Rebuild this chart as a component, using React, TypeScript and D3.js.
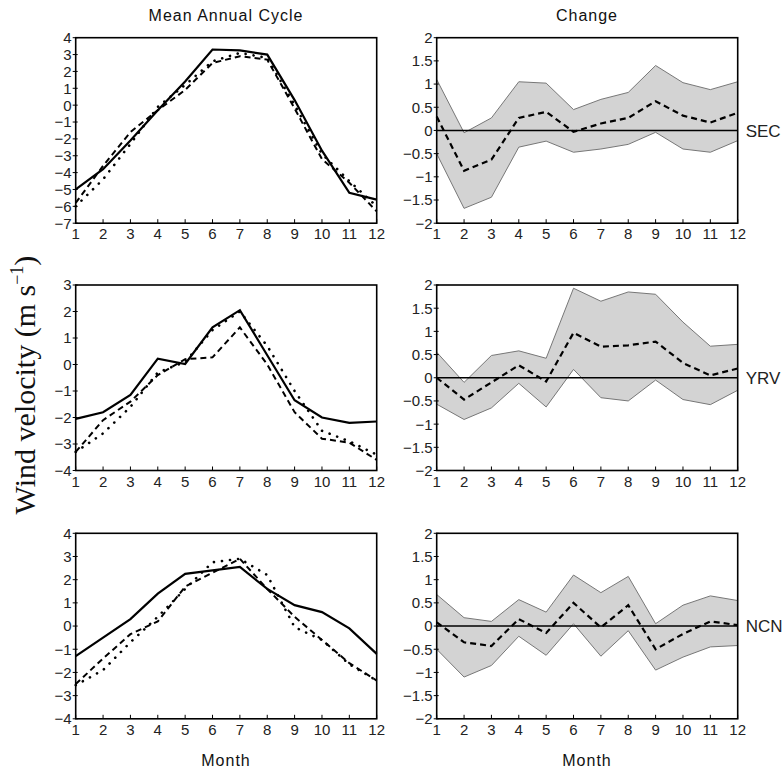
import { line, area, scaleLinear, range } from "d3"

const months = range(1, 13)

// Mean annual cycle (left column): solid, dashed, dotted
const secSolid = [-5.0, -3.8, -2.1, -0.3, 1.4, 3.3, 3.25, 3.0, 0.3, -2.7, -5.2, -5.6]
const secDashed = [-5.8, -3.6, -1.6, -0.3, 0.9, 2.5, 2.9, 2.7, -0.2, -3.2, -4.6, -6.3]
const secDotted = [-6.0, -4.4, -2.3, -0.1, 1.2, 2.6, 3.1, 2.8, 0.0, -2.9, -4.5, -6.0]

const yrvSolid = [-2.05, -1.8, -1.15, 0.22, 0.02, 1.4, 2.05, 0.35, -1.35, -2.0, -2.2, -2.15]
const yrvDashed = [-3.3, -2.1, -1.4, -0.4, 0.2, 0.27, 1.4, 0.0, -1.8, -2.8, -2.95, -3.6]
const yrvDotted = [-3.3, -2.6, -1.6, -0.3, 0.1, 1.3, 2.0, 0.7, -1.0, -2.5, -2.9, -3.4]

const ncnSolid = [-1.3, -0.5, 0.3, 1.4, 2.25, 2.4, 2.55, 1.6, 0.9, 0.6, -0.1, -1.2]
const ncnDashed = [-2.5, -1.4, -0.35, 0.2, 1.7, 2.3, 2.9, 1.6, 0.4, -0.6, -1.6, -2.35]
const ncnDotted = [-2.55, -1.9, -0.7, 0.4, 1.6, 2.75, 2.9, 2.2, -0.05, -0.6, -1.65, -2.35]

// Change (right column): mean, upper and lower bounds
const secMean = [0.3, -0.87, -0.63, 0.27, 0.4, -0.03, 0.15, 0.27, 0.63, 0.32, 0.17, 0.38]
const secUpper = [1.1, -0.05, 0.27, 1.05, 1.02, 0.45, 0.67, 0.82, 1.4, 1.03, 0.88, 1.05]
const secLower = [-0.5, -1.68, -1.44, -0.36, -0.23, -0.47, -0.4, -0.3, -0.04, -0.4, -0.47, -0.22]

const yrvMean = [0.0, -0.47, -0.1, 0.27, -0.08, 0.97, 0.67, 0.7, 0.78, 0.32, 0.05, 0.2]
const yrvUpper = [0.55, -0.1, 0.48, 0.58, 0.42, 1.93, 1.65, 1.85, 1.8, 1.2, 0.68, 0.72]
const yrvLower = [-0.57, -0.9, -0.65, -0.12, -0.63, 0.18, -0.43, -0.5, -0.05, -0.47, -0.58, -0.27]

const ncnMean = [0.08, -0.35, -0.43, 0.15, -0.15, 0.5, -0.03, 0.45, -0.5, -0.17, 0.1, 0.02]
const ncnUpper = [0.68, 0.18, 0.1, 0.57, 0.3, 1.1, 0.72, 1.07, 0.05, 0.45, 0.65, 0.55]
const ncnLower = [-0.5, -1.1, -0.85, -0.22, -0.63, 0.05, -0.65, -0.1, -0.95, -0.67, -0.45, -0.42]

const regions = ["SEC", "YRV", "NCN"]
const cycleDomains = [[-7, 4], [-4, 3], [-4, 4]]
const changeTicks = [-2, -1.5, -1, -0.5, 0, 0.5, 1, 1.5, 2]

const cycles = [
  [secSolid, secDashed, secDotted],
  [yrvSolid, yrvDashed, yrvDotted],
  [ncnSolid, ncnDashed, ncnDotted],
]
const changes = [
  [secMean, secUpper, secLower],
  [yrvMean, yrvUpper, yrvLower],
  [ncnMean, ncnUpper, ncnLower],
]

const rowTops = [37.7, 285, 533.3]
const rowH = 185.5
const leftX = [75.7, 376.7]
const rightX = [436.7, 737.7]
const tickFont = "'Liberation Sans', Arial, sans-serif"

const fmt = (v) => (v < 0 ? "\u2212" + Math.abs(v) : String(v))

const Panel = ({ x0, x1, top, domain, ticks, children }) => {
  const x = scaleLinear().domain([1, 12]).range([x0, x1])
  const y = scaleLinear().domain(domain).range([top + rowH, top])
  return (
    <g>
      {children(x, y)}
      <rect x={x0} y={top} width={x1 - x0} height={rowH} fill="none" stroke="#000" strokeWidth={1.6} />
      {ticks.map((t) => (
        <g key={"y" + t}>
          <line x1={x0 - 3} x2={x0 + 2} y1={y(t)} y2={y(t)} stroke="#000" strokeWidth={1} />
          <text x={x0 - 4} y={y(t)} dy="0.36em" textAnchor="end" fontSize={15} fontFamily={tickFont} fill="#222">
            {fmt(t)}
          </text>
        </g>
      ))}
      {months.map((m) => (
        <g key={"x" + m}>
          <line x1={x(m)} x2={x(m)} y1={top + rowH} y2={top + rowH - 4} stroke="#000" strokeWidth={1} />
          <text x={x(m)} y={top + rowH + 16} textAnchor="middle" fontSize={15} fontFamily={tickFont} fill="#222">
            {m}
          </text>
        </g>
      ))}
    </g>
  )
}

const App = () => {
  const title = { fontSize: 16, fontFamily: tickFont, fill: "#111", letterSpacing: 1 }
  return (
    <svg width={782} height={772} style={{ display: "block", position: "absolute", left: 0, top: 0 }}>
      <rect width={782} height={772} fill="#fff" />
      <text x={226} y={21} textAnchor="middle" {...title}>
        Mean Annual Cycle
      </text>
      <text x={587} y={21} textAnchor="middle" {...title}>
        Change
      </text>
      <text x={226} y={766} textAnchor="middle" {...title}>
        Month
      </text>
      <text x={587} y={766} textAnchor="middle" {...title}>
        Month
      </text>
      <text
        transform="translate(35,385) rotate(-90)"
        textAnchor="middle"
        fontSize={30}
        fontFamily="'Liberation Serif', 'Times New Roman', serif"
        fill="#111"
      >
        Wind velocity (m s<tspan dy="-12" fontSize={18}>−1</tspan><tspan dy="12">)</tspan>
      </text>

      {regions.map((name, r) => {
        const [lo, hi] = cycleDomains[r]
        const [solid, dashed, dotted] = cycles[r]
        const [mean, upper, lower] = changes[r]
        return (
          <g key={name}>
            <Panel x0={leftX[0]} x1={leftX[1]} top={rowTops[r]} domain={[lo, hi]} ticks={range(lo, hi + 1)}>
              {(x, y) => {
                const ln = line().x((d, i) => x(months[i])).y((d) => y(d))
                return (
                  <g fill="none" stroke="#000">
                    <path d={ln(dotted)} strokeWidth={2.6} strokeDasharray="0.1 8" strokeLinecap="round" />
                    <path d={ln(dashed)} strokeWidth={2} strokeDasharray="6 4" />
                    <path d={ln(solid)} strokeWidth={2.2} />
                  </g>
                )
              }}
            </Panel>
            <Panel x0={rightX[0]} x1={rightX[1]} top={rowTops[r]} domain={[-2, 2]} ticks={changeTicks}>
              {(x, y) => {
                const band = area()
                  .x((d, i) => x(months[i]))
                  .y0((d, i) => y(lower[i]))
                  .y1((d) => y(d))
                const ln = line().x((d, i) => x(months[i])).y((d) => y(d))
                return (
                  <g>
                    <path d={band(upper)} fill="#d3d3d3" stroke="none" />
                    <path d={ln(upper)} fill="none" stroke="#777" strokeWidth={1} />
                    <path d={ln(lower)} fill="none" stroke="#777" strokeWidth={1} />
                    <line x1={x(1)} x2={x(12)} y1={y(0)} y2={y(0)} stroke="#000" strokeWidth={1.6} />
                    <path d={ln(mean)} fill="none" stroke="#000" strokeWidth={2.2} strokeDasharray="6 4" />
                    <text x={x(12) + 8} y={y(0)} dy="0.36em" fontSize={17} fontFamily={tickFont} fill="#222">
                      {name}
                    </text>
                  </g>
                )
              }}
            </Panel>
          </g>
        )
      })}
    </svg>
  )
}

export default App
